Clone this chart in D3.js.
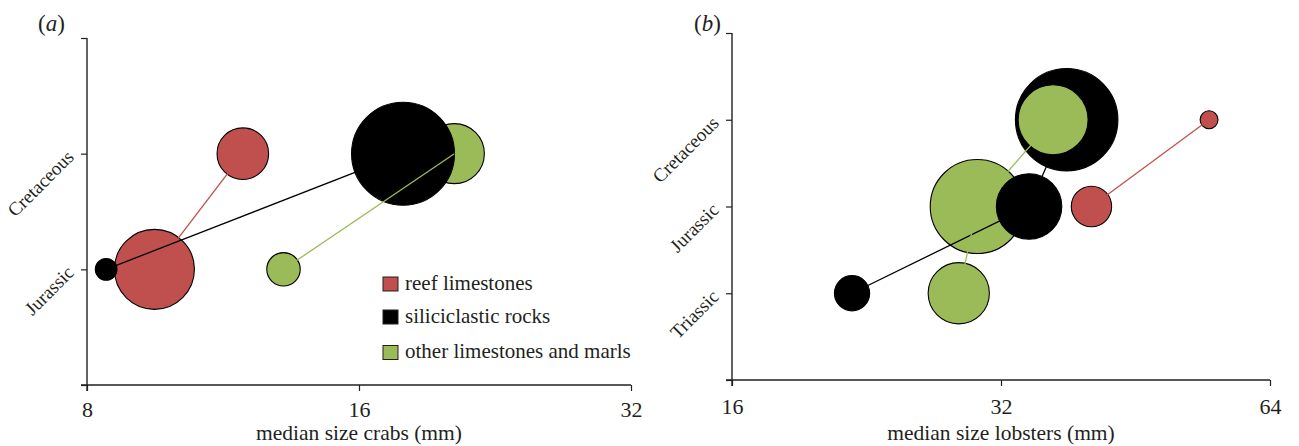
<!DOCTYPE html>
<html>
<head>
<meta charset="utf-8">
<script src="https://cdn.jsdelivr.net/npm/d3@7"></script>
<style>
  html, body { margin: 0; padding: 0; background: #fff; }
  svg { display: block; }
</style>
</head>
<body>
<svg id="chart" width="1299" height="446"></svg>
<script>
// Series (sedimentary setting) names and colours
const seriesKeys = ["reef", "silic", "other"];
const seriesNames = ["reef limestones", "siliciclastic rocks", "other limestones and marls"];
const seriesColors = ["#c0504d", "#000000", "#9bbb59"];

// (a) crabs: median size (mm) and sample size per period
const crabPeriods = ["Jurassic", "Cretaceous"];
const crabReefSize = [9.5, 11.9];
const crabReefN = [64, 26.6];
const crabSilicSize = [8.4, 17.9];
const crabSilicN = [4.7, 106];
const crabOtherSize = [13.2, 20.4];
const crabOtherN = [11.2, 36];
const crabTicks = [8, 16, 32];

// (b) lobsters: median size (mm) and sample size per period
const lobsterPeriods = ["Triassic", "Jurassic", "Cretaceous"];
const lobsterReefSize = [null, 40.4, 54.7];
const lobsterReefN = [null, 16.3, 3.2];
const lobsterSilicSize = [21.8, 34.4, 37.9];
const lobsterSilicN = [12.4, 42.8, 105];
const lobsterOtherSize = [28.7, 30.1, 36.6];
const lobsterOtherN = [37.5, 88.4, 49];
const lobsterTicks = [16, 32, 64];

const FONT = "'Liberation Serif', 'Times New Roman', serif";
const INK = "#231f20";
const svg = d3.select("#chart");
const rScale = d3.scaleSqrt().domain([0, 100]).range([0, 50]);

function buildSeries(periods, sizes, counts) {
  return seriesKeys.map((key, i) => ({
    key,
    color: seriesColors[i],
    points: periods.map((p, j) => ({ period: j + 1, size: sizes[i][j], n: counts[i][j] }))
      .filter(d => d.size != null)
  }));
}

function drawPanel(cfg) {
  const g = svg.append("g");
  const x = d3.scaleLog().base(2).domain(cfg.xDomain).range(cfg.xRange);
  const y = d3.scaleLinear().domain([0, cfg.periods.length + 1]).range(cfg.yRange);
  const series = buildSeries(cfg.periods, cfg.sizes, cfg.counts);
  const byKey = Object.fromEntries(series.map(s => [s.key, s]));

  // layered drawing of bubbles and connecting lines
  const line = d3.line().x(d => x(d.size)).y(d => y(d.period));
  cfg.order.forEach(([kind, key, period]) => {
    const s = byKey[key];
    if (kind === "line") {
      g.append("path")
        .attr("d", line(s.points))
        .attr("fill", "none")
        .attr("stroke", s.color)
        .attr("stroke-width", 1.3);
    } else {
      const d = s.points.find(p => p.period === period);
      g.append("circle")
        .attr("cx", x(d.size))
        .attr("cy", y(d.period))
        .attr("r", rScale(d.n))
        .attr("fill", s.color)
        .attr("stroke", "#000")
        .attr("stroke-width", 1.1);
    }
  });

  // x axis
  const xAxis = g.append("g")
    .attr("transform", `translate(0,${cfg.yRange[0]})`)
    .call(d3.axisBottom(x).tickValues(cfg.xTicks).tickFormat(d3.format("d"))
      .tickSize(6).tickSizeOuter(0).tickPadding(cfg.xPad));
  xAxis.select(".domain").attr("stroke", INK).attr("stroke-width", 1.4)
    .attr("d", `M${cfg.xRange[0] - 6},0H${cfg.xRange[1]}`);
  xAxis.selectAll(".tick line").attr("stroke", INK).attr("stroke-width", 1.2);
  xAxis.selectAll(".tick text").attr("fill", INK)
    .style("font-family", FONT).style("font-size", "22px");

  // y axis with rotated period labels
  const yTickVals = d3.range(0, cfg.periods.length + 2);
  const yAxis = g.append("g")
    .attr("transform", `translate(${cfg.xRange[0]},0)`)
    .call(d3.axisLeft(y).tickValues(yTickVals)
      .tickFormat(v => cfg.periods[v - 1] || "")
      .tickSize(6).tickSizeOuter(0));
  yAxis.select(".domain").attr("stroke", INK).attr("stroke-width", 1.4)
    .attr("d", `M0,${cfg.yRange[1]}V${cfg.yRange[0] + 6}`);
  yAxis.selectAll(".tick line").attr("stroke", INK).attr("stroke-width", 1.2);
  yAxis.selectAll(".tick text")
    .attr("fill", INK)
    .style("font-family", FONT).style("font-size", "19px")
    .attr("text-anchor", "end")
    .attr("x", 0).attr("dy", 0)
    .attr("transform", "translate(-12,4) rotate(-45)");

  // axis title
  g.append("text")
    .attr("x", (cfg.xRange[0] + cfg.xRange[1]) / 2)
    .attr("y", 440)
    .attr("text-anchor", "middle")
    .attr("fill", INK)
    .style("font-family", FONT).style("font-size", "21.5px")
    .text(cfg.title);

  // panel letter
  const lab = g.append("text").attr("x", cfg.letterX).attr("y", 31)
    .attr("fill", INK)
    .style("font-family", FONT).style("font-size", "23px");
  lab.append("tspan").text("(");
  lab.append("tspan").style("font-style", "italic").text(cfg.letter);
  lab.append("tspan").text(")");
  return g;
}

drawPanel({
  periods: crabPeriods,
  sizes: [crabReefSize, crabSilicSize, crabOtherSize],
  counts: [crabReefN, crabSilicN, crabOtherN],
  xDomain: [8, 32], xRange: [87, 631], yRange: [385, 38],
  xTicks: crabTicks, xPad: 10,
  title: "median size crabs (mm)",
  letter: "a", letterX: 38,
  order: [
    ["circle", "other", 2], ["circle", "silic", 2], ["circle", "reef", 2],
    ["circle", "reef", 1], ["circle", "silic", 1], ["circle", "other", 1],
    ["line", "reef"], ["line", "silic"], ["line", "other"]
  ]
});

drawPanel({
  periods: lobsterPeriods,
  sizes: [lobsterReefSize, lobsterSilicSize, lobsterOtherSize],
  counts: [lobsterReefN, lobsterSilicN, lobsterOtherN],
  xDomain: [16, 64], xRange: [732, 1270], yRange: [380, 33],
  xTicks: lobsterTicks, xPad: 12,
  title: "median size lobsters (mm)",
  letter: "b", letterX: 694,
  order: [
    ["circle", "reef", 2], ["circle", "reef", 3],
    ["circle", "silic", 1], ["circle", "other", 1],
    ["circle", "other", 2], ["circle", "silic", 2],
    ["line", "silic"],
    ["circle", "silic", 3], ["circle", "other", 3],
    ["line", "other"], ["line", "reef"]
  ]
});

// legend inside panel (a)
const legend = svg.append("g").attr("transform", "translate(383,277)");
const rowY = [0, 33, 68.5];
seriesNames.forEach((name, i) => {
  const row = legend.append("g").attr("transform", `translate(0,${rowY[i]})`);
  row.append("rect").attr("width", 15).attr("height", 14)
    .attr("fill", seriesColors[i]).attr("stroke", INK).attr("stroke-width", 1);
  row.append("text").attr("x", 22).attr("y", 12.5)
    .attr("fill", INK)
    .style("font-family", FONT).style("font-size", "21px")
    .text(name);
});
</script>
</body>
</html>
